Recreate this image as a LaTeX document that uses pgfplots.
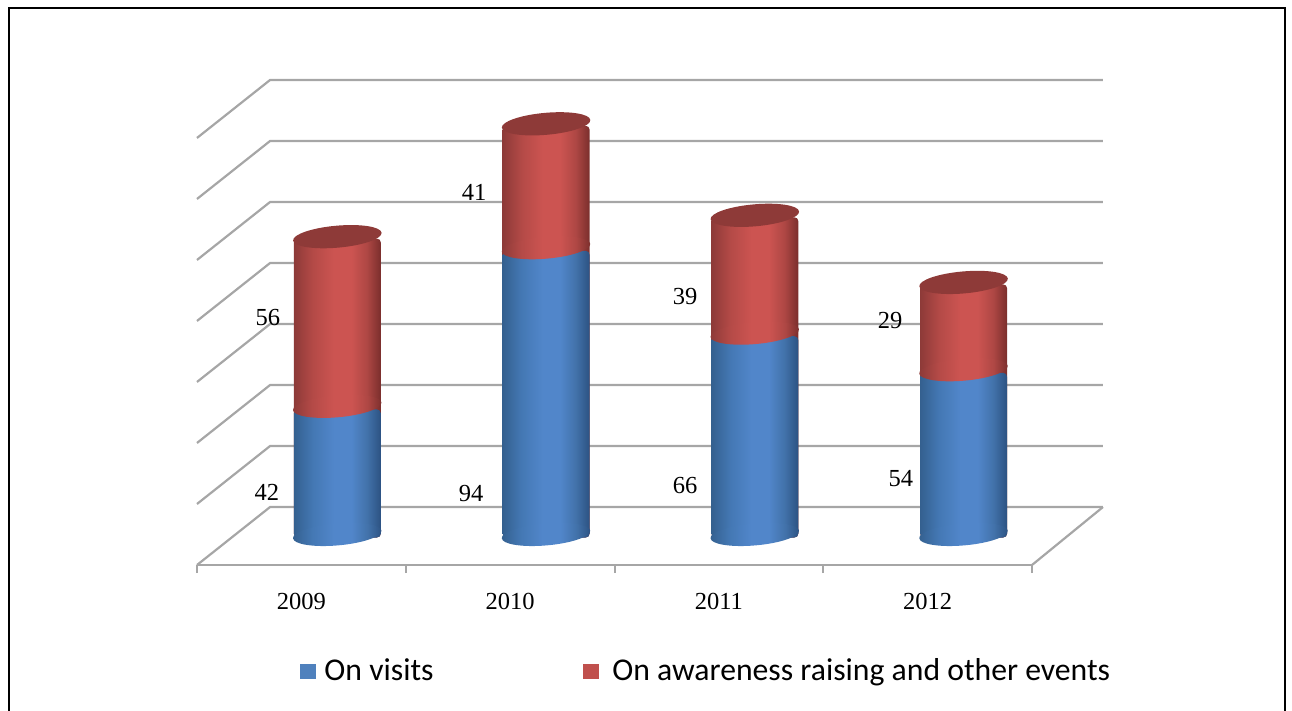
\documentclass[border=0pt]{standalone}
\usepackage{pgfplots}
\usepackage{pgfplotstable}
\usepackage{fontspec}
\pgfplotsset{compat=1.18}
\usetikzlibrary{shapes.geometric}
\setmainfont{Liberation Serif}
\newfontfamily\legendfont{Carlito}
\definecolor{gridc}{HTML}{A6A6A6}
\definecolor{capc}{HTML}{8E3A38}
\definecolor{legblue}{HTML}{4F81BD}
\definecolor{legred}{HTML}{C0504D}
\definecolor{bA}{HTML}{34608F}
\definecolor{bB}{HTML}{4478B4}
\definecolor{bC}{HTML}{5186CA}
\definecolor{bD}{HTML}{4272AA}
\definecolor{bE}{HTML}{2C5282}
\definecolor{rA}{HTML}{8D3A38}
\definecolor{rB}{HTML}{B44A47}
\definecolor{rC}{HTML}{CC5451}
\definecolor{rD}{HTML}{AE4744}
\definecolor{rE}{HTML}{7A2E2C}
\pgfdeclarehorizontalshading{cylblue}{100bp}{color(0bp)=(bA); color(25bp)=(bA); color(36bp)=(bB); color(48bp)=(bC); color(58bp)=(bC); color(67bp)=(bD); color(75bp)=(bE); color(100bp)=(bE)}
\pgfdeclarehorizontalshading{cylred}{100bp}{color(0bp)=(rA); color(25bp)=(rA); color(36bp)=(rB); color(48bp)=(rC); color(58bp)=(rC); color(67bp)=(rD); color(75bp)=(rE); color(100bp)=(rE)}
\pgfplotstableread{
x visits awareness
0 42 56
1 94 41
2 66 39
3 54 29
}\spend
\begin{document}
\begin{tikzpicture}
\useasboundingbox (0,0) rectangle (646pt,-355.5pt);
\draw[black,line width=1.25pt] (4.6pt,-355.5pt) -- (4.6pt,-3.9pt) -- (642.6pt,-3.9pt) -- (642.6pt,-355.5pt);
\begin{axis}[
  at={(98.5pt,-282.5pt)}, anchor=south west,
  scale only axis, width=417.5pt, height=242.5pt,
  xmin=-0.5, xmax=3.5, ymin=-9, ymax=150,
  clip=false,
  axis x line=bottom, axis y line=none,
  axis line style={gridc,line width=1.1pt,-},
  xtick={0,1,2,3}, xticklabels={2009,2010,2011,2012},
  minor xtick={-0.5,0.5,1.5,2.5,3.5},
  major tick length=0pt, minor tick length=4pt,
  tick align=outside,
  minor tick style={gridc,line width=1pt},
  xticklabel style={font=\fontsize{12.25}{14}\selectfont,yshift=-10.5pt},
  legend style={at={(axis description cs:0.1165,-0.2195)},anchor=west,draw=none,fill=none,
    font=\legendfont\fontsize{15.85}{19}\selectfont,legend columns=2,
    /tikz/column 1/.style={column sep=2.5pt},
    /tikz/column 2/.style={column sep=73pt},
    /tikz/column 3/.style={column sep=5pt}},
  legend entries={On visits,On awareness raising and other events},
]
\addlegendimage{only marks,mark=square*,mark size=3.7pt,mark options={draw=legblue,fill=legblue}}
\addlegendimage{only marks,mark=square*,mark size=3.7pt,mark options={draw=legred,fill=legred}}
% walls and floor
\addplot[gridc,line width=1.1pt,forget plot] coordinates {(3.84,10) (3.5,-9)};
\addplot[gridc,line width=1.1pt,forget plot] coordinates {(-0.5,-9) (-0.15,10) (3.84,10)};
\addplot[gridc,line width=1.1pt,forget plot] coordinates {(-0.5,11) (-0.15,30) (3.84,30)};
\addplot[gridc,line width=1.1pt,forget plot] coordinates {(-0.5,31) (-0.15,50) (3.84,50)};
\addplot[gridc,line width=1.1pt,forget plot] coordinates {(-0.5,51) (-0.15,70) (3.84,70)};
\addplot[gridc,line width=1.1pt,forget plot] coordinates {(-0.5,71) (-0.15,90) (3.84,90)};
\addplot[gridc,line width=1.1pt,forget plot] coordinates {(-0.5,91) (-0.15,110) (3.84,110)};
\addplot[gridc,line width=1.1pt,forget plot] coordinates {(-0.5,111) (-0.15,130) (3.84,130)};
\addplot[gridc,line width=1.1pt,forget plot] coordinates {(-0.5,131) (-0.15,150) (3.84,150)};
% cylinder bodies: one plot per bar, so that each bar has its own shading
\pgfplotsinvokeforeach{0,1,2,3}{
  \addplot[ybar,bar width=43.5pt,bar shift=18pt,draw=none,rounded corners=2pt,shade,shading=cylred,forget plot,restrict x to domain=#1:#1] table[x=x,y expr=\thisrow{visits}+\thisrow{awareness}] {\spend};
  \addplot[ybar,bar width=43.5pt,bar shift=18pt,draw=none,rounded corners=2pt,shade,shading=cylblue,forget plot,restrict x to domain=#1:#1] table[x=x,y=visits] {\spend};
}
% ellipse ends
\pgfplotsset{ends/.style={only marks,mark=none,forget plot,nodes near coords={},
  nodes near coords style={shape=ellipse,anchor=center,inner sep=0pt,outer sep=0pt,draw=none,minimum width=44.4pt,minimum height=11pt,rotate=5,xshift=18pt,yshift=0pt}}}
\addplot[ends,nodes near coords style={shade,shading=cylblue}] table[x=x,y expr=0*\thisrow{visits}] {\spend};
\addplot[ends,nodes near coords style={shade,shading=cylred}] table[x=x,y=visits] {\spend};
\addplot[ends,nodes near coords style={fill=capc,yshift=-0.6pt}] table[x=x,y expr=\thisrow{visits}+\thisrow{awareness}] {\spend};
% value labels
\node[font=\fontsize{12.25}{14}\selectfont] at (axis cs:-0.165,14.9) {42};
\node[font=\fontsize{12.25}{14}\selectfont] at (axis cs:-0.16,72.3) {56};
\node[font=\fontsize{12.25}{14}\selectfont] at (axis cs:0.813,14.3) {94};
\node[font=\fontsize{12.25}{14}\selectfont] at (axis cs:0.827,113.3) {41};
\node[font=\fontsize{12.25}{14}\selectfont] at (axis cs:1.838,17.2) {66};
\node[font=\fontsize{12.25}{14}\selectfont] at (axis cs:1.838,78.9) {39};
\node[font=\fontsize{12.25}{14}\selectfont] at (axis cs:2.872,19.2) {54};
\node[font=\fontsize{12.25}{14}\selectfont] at (axis cs:2.82,71) {29};
\end{axis}
\end{tikzpicture}
\end{document}
